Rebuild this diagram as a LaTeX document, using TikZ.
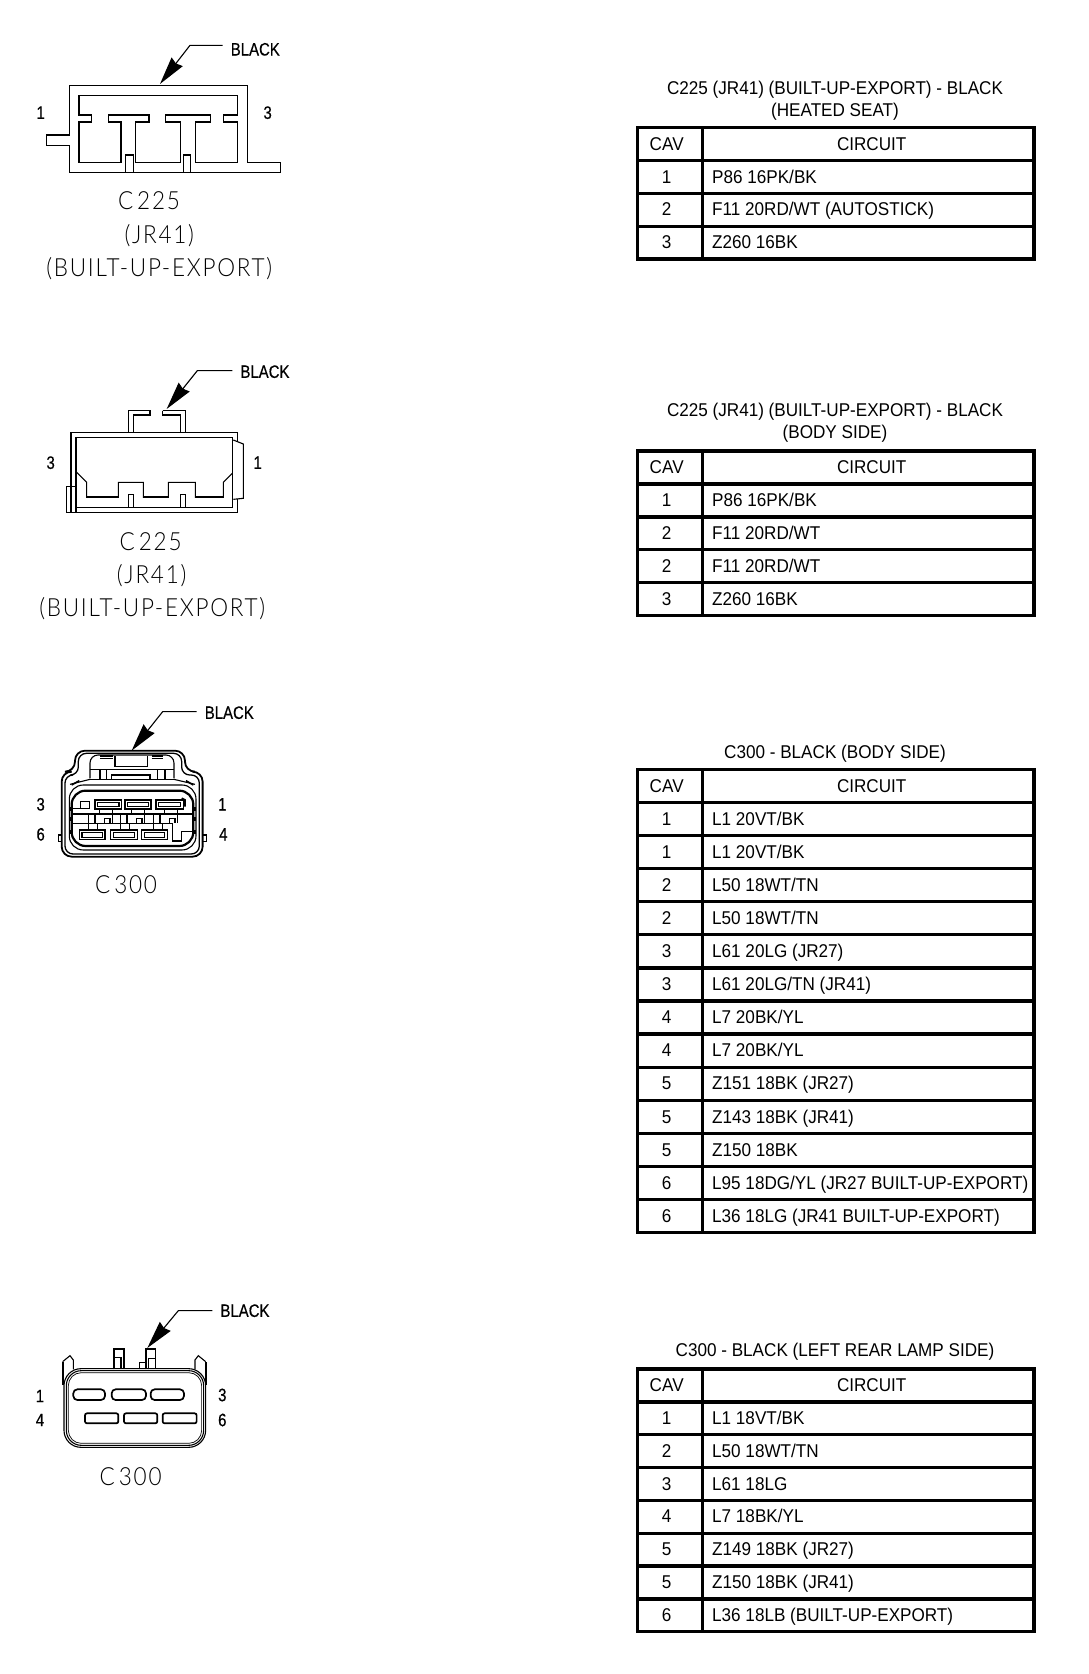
\documentclass[tikz,border=0pt]{standalone}
\usepackage{fontspec}
\setmainfont{Liberation Sans}[FakeStretch=0.925]
\newfontfamily\blackfont{Liberation Sans}[FakeStretch=0.83,FakeBold=0.4]
\newfontfamily\capfont{Lato}[UprightFont=* Light,LetterSpace=7,FakeStretch=0.9]
\usetikzlibrary{arrows.meta}

\tikzset{
  zoomed/.style 2 args={shift={(#1,#2)},x=0.3333pt,y=-0.3333pt},
  thin line/.style={line width=1.1pt,line join=miter},
  grid line/.style={line width=3.3pt,line cap=rect},
  leader/.style={line width=1.1pt,-{Stealth[length=28pt,width=14pt,inset=2pt]}},
  cellfont/.style={inner sep=0pt,anchor=base,font=\fontsize{18.5}{18.5}\selectfont},
  colorlabel/.style={inner sep=0pt,font=\blackfont\fontsize{18}{18}\selectfont},
  pinlabel/.style={inner sep=0pt,font=\blackfont\fontsize{18}{18}\selectfont},
  caplabel/.style={inner sep=0pt,font=\capfont\fontsize{25}{25}\selectfont},
}

% #1 name, #2 y of top line, #3 y of bottom line, #4 number of lines below the top, #5 rows
\newcommand{\wiretable}[5]{
  \pgfmathsetmacro{\rowh}{(#3-#2)/#4}
  \draw[grid line] (637.3,#2) rectangle (1034,#3);
  \draw[grid line] (702.7,#2) -- (702.7,#3);
  \foreach \r in {1,...,#4} {
    \draw[grid line] (637.3,#2+\r*\rowh) -- (1034,#2+\r*\rowh);
  }
  \node[cellfont] (#1cav) at (666.7,#2+0.5*\rowh+6.2) {CAV};
  \node[cellfont] (#1cir) at (871.7,#2+0.5*\rowh+6.2) {CIRCUIT};
  \foreach \c/\w [count=\r] in {#5} {
    \node[cellfont] (#1c\r) at (666.7,#2+\r*\rowh+0.5*\rowh+6.2) {\c};
    \node[cellfont,anchor=base west] (#1w\r) at (712,#2+\r*\rowh+0.5*\rowh+6.2) {\w};
  }
}

\begin{document}
\begin{tikzpicture}[x=1pt,y=-1pt]
\useasboundingbox (0,0) rectangle (1088,1674);
\fill[white] (0,0) rectangle (1088,1674);

% first connector
\begin{scope}[zoomed={0}{20}]
\node[colorlabel] (blk1) at (766,88) {BLACK};
\node[pinlabel] (p1a) at (122,278) {1};
\node[pinlabel] (p1b) at (803,278) {3};
\node[caplabel] (cap1a) at (447,543) {C\kern4pt225};
\node[caplabel] (cap1b) at (478,647) {(JR41)};
\node[caplabel] (cap1c) at (478,745) {(BUILT-UP-EXPORT)};
\coordinate (bend1) at (570,76);
\coordinate (tip1) at (480,192);
\draw[thin line] (140,345) -- (208,345) -- (208,197) -- (742,197) -- (742,428) -- (841,428) -- (841,457) -- (208,457) -- (208,376) -- (140,376) -- cycle;
\draw[thin line] (237,226) -- (712,226) -- (712,285) -- (670,285) -- (670,306) -- (712,306) -- (712,428) -- (586,428) -- (586,306) -- (632,306) -- (632,285) -- (497,285) -- (497,306) -- (541,306) -- (541,428) -- (407,428) -- (407,306) -- (447,306) -- (447,285) -- (326,285) -- (326,306) -- (363,306) -- (363,428) -- (237,428) -- (237,306) -- (275,306) -- (275,285) -- (237,285) -- cycle;
\draw[thin line] (377,457) -- (377,405) -- (400,405) -- (400,457);
\draw[thin line] (551,457) -- (551,405) -- (571,405) -- (571,457);
\draw[leader] ([xshift=-8pt]blk1.west |- bend1) -- (bend1) -- (tip1);
\end{scope}

% second connector
\begin{scope}[zoomed={0}{350}]
\node[colorlabel] (blk2) at (795,65) {BLACK};
\node[pinlabel] (p2a) at (152,338) {3};
\node[pinlabel] (p2b) at (773,338) {1};
\node[caplabel] (cap2a) at (452,575) {C\kern4pt225};
\node[caplabel] (cap2b) at (455,678) {(JR41)};
\node[caplabel] (cap2c) at (457,775) {(BUILT-UP-EXPORT)};
\coordinate (bend2) at (592,62);
\coordinate (tip2) at (500,177);
\draw[thin line] (213,487) -- (213,247) -- (712,247) -- (712,275);
\draw[thin line] (712,448) -- (712,487) -- (228,487);
\draw[thin line] (200,410) rectangle (228,487);
\draw[thin line] (228,487) -- (228,262) -- (697,262) -- (697,472) -- (228,472);
\draw[thin line] (700,270) -- (730,282) -- (730,445) -- (700,448);
\draw[thin line] (228,365) -- (260,397) -- (260,442) -- (355,442) -- (355,397) -- (430,397) -- (430,442) -- (505,442) -- (505,397) -- (586,397) -- (586,442) -- (670,442) -- (670,397) -- (697,370);
\draw[line width=2pt] (260,442) -- (355,442) (430,442) -- (505,442) (586,442) -- (670,442);
\draw[thin line] (386,472) -- (386,433) -- (400,433) -- (400,472);
\draw[thin line] (541,472) -- (541,433) -- (556,433) -- (556,472);
\draw[thin line] (386,247) -- (386,182) -- (450,182) -- (450,195) -- (400,195) -- (400,247);
\draw[thin line] (488,182) -- (556,182) -- (556,247) (488,182) -- (488,195) -- (542,195) -- (542,247);
\draw[leader] ([xshift=-8pt]blk2.west |- bend2) -- (bend2) -- (tip2);
\end{scope}

% third connector
\begin{scope}[zoomed={20}{690}]
\node[colorlabel] (blk3) at (628,68) {BLACK};
\node[pinlabel] (p3a) at (62,343) {3};
\node[pinlabel] (p3b) at (607,343) {1};
\node[pinlabel] (p3c) at (62,433) {6};
\node[pinlabel] (p3d) at (610,433) {4};
\node[caplabel] (cap3) at (318,583) {C\kern4pt300};
\coordinate (bend3) at (428,65);
\coordinate (tip3) at (335,182);
% shell
\draw[line width=1.8pt,rounded corners=10pt] (125,500) -- (125,245) -- (165,245) -- (165,182) -- (495,182) -- (495,245) -- (548,245) -- (548,500) -- cycle;
\draw[line width=1.3pt,rounded corners=8pt] (135,492) -- (135,255) -- (175,255) -- (175,190) -- (485,190) -- (485,255) -- (538,255) -- (538,492) -- cycle;
\draw[thin line,rounded corners=8pt] (210,265) -- (210,195) -- (462,195) -- (462,265);
\draw[thin line] (285,198) -- (285,230) -- (382,230) -- (382,198);
\draw[thin line] (240,198) -- (280,198) (395,198) -- (430,198) (240,206) -- (280,206) (395,206) -- (430,206);
\draw[thin line] (210,238) -- (462,238);
\foreach \x in {240,260,412,435} {
  \draw[thin line] (\x,238) -- (\x,268);
}
\draw[thin line] (275,268) -- (275,255) -- (390,255) -- (390,268) (210,268) -- (462,268);
\draw[thin line] (150,283) -- (210,268) (462,268) -- (525,283);
\draw[line width=1.6pt] (155,285) -- (178,272) (498,272) -- (520,285);
% face
\draw[thin line,rounded corners=14pt] (148,285) rectangle (528,480);
\draw[line width=2.2pt,rounded corners=14pt] (155,302) -- (520,302) -- (520,468) -- (155,468) -- cycle;
\foreach \y in {350,380,420} {
  \fill (146,\y) rectangle (156,\y+12);
  \fill (518,\y) rectangle (528,\y+12);
}
\draw[thin line] (115,435) rectangle (125,455) (548,435) rectangle (560,455);
% cavities
\foreach \x/\w in {225/80,315/78,408/82} {
  \draw[thin line] (\x,330) rectangle ++(\w,27);
  \draw[thin line] (\x+8,337) rectangle ++(\w-16,13);
}
\foreach \x/\w in {178/77,272/80,365/77} {
  \draw[thin line] (\x,420) rectangle ++(\w,29);
  \draw[thin line] (\x+8,427) rectangle ++(\w-16,15);
}
\draw[thin line] (158,355) -- (208,355) -- (208,335) -- (182,335) -- (182,355);
\draw[thin line] (155,372) -- (520,372) (155,400) -- (458,400);
\foreach \dx in {0,96,195} {
  \draw[thin line] (205+\dx,372) -- (205+\dx,400) -- (225+\dx,400) -- (225+\dx,372);
  \draw[thin line] (253+\dx,400) -- (253+\dx,385) -- (270+\dx,385) -- (270+\dx,400);
  \draw[thin line] (238+\dx,357) -- (238+\dx,372) (278+\dx,357) -- (278+\dx,400);
  \draw[thin line] (205+\dx,400) -- (205+\dx,420) (232+\dx,400) -- (232+\dx,420);
}
\draw[thin line] (458,400) -- (458,453) -- (485,453) -- (485,425) -- (515,425);
\draw[line width=2pt] (485,325) -- (495,330) -- (495,350);
\draw[leader] ([xshift=-8pt]blk3.west |- bend3) -- (bend3) -- (tip3);
\end{scope}

% fourth connector
\begin{scope}[zoomed={20}{1290}]
\node[colorlabel] (blk4) at (675,62) {BLACK};
\node[pinlabel] (p4a) at (60,318) {1};
\node[pinlabel] (p4b) at (607,315) {3};
\node[pinlabel] (p4c) at (60,390) {4};
\node[pinlabel] (p4d) at (607,390) {6};
\node[caplabel] (cap4) at (332,560) {C\kern4pt300};
\coordinate (bend4) at (475,62);
\coordinate (tip4) at (382,174);
\draw[thin line,rounded corners=17pt] (132,236) rectangle (557,472);
\draw[thin line,rounded corners=15pt] (139,242) rectangle (551,466);
\draw[line width=.7pt,rounded corners=13pt] (145,248) rectangle (545,460);
\foreach \x/\w in {160/95,275/103,392/100} {
  \draw[line width=1.7pt,rounded corners=4pt] (\x,298) rectangle ++(\w,32);
}
\foreach \x/\w in {195/100,312/100,428/102} {
  \draw[line width=1.7pt,rounded corners=2pt] (\x,370) rectangle ++(\w,30);
}
\draw[line width=2pt] (128,285) -- (128,215);
\draw[thin line] (128,215) -- (150,197) -- (160,210) -- (160,238);
\draw[line width=2pt] (557,285) -- (557,215);
\draw[thin line] (525,238) -- (525,210) -- (535,197) -- (557,215);
\draw[thin line] (282,238) -- (282,177) -- (312,177) -- (312,238) (282,203) -- (303,203) -- (303,238);
\draw[thin line] (378,238) -- (378,177) -- (407,177) -- (407,238) (385,238) -- (385,205) -- (407,205);
\draw[thin line] (358,238) -- (358,217) -- (378,217);
\draw[leader] ([xshift=-8pt]blk4.west |- bend4) -- (bend4) -- (tip4);
\end{scope}

% tables
\node[cellfont] (title1a) at (835,94.5) {C225 (JR41) (BUILT-UP-EXPORT) - BLACK};
\node[cellfont] (title1b) at (835,116.2) {(HEATED SEAT)};
\wiretable{ta}{127.7}{259}{4}{1/{P86 16PK/BK},2/{F11 20RD/WT (AUTOSTICK)},3/{Z260 16BK}}

\node[cellfont] (title2a) at (835,416.9) {C225 (JR41) (BUILT-UP-EXPORT) - BLACK};
\node[cellfont] (title2b) at (835,438.9) {(BODY SIDE)};
\wiretable{tb}{451}{615.7}{5}{1/{P86 16PK/BK},2/{F11 20RD/WT},2/{F11 20RD/WT},3/{Z260 16BK}}

\node[cellfont] (title3) at (835,758.5) {C300 - BLACK (BODY SIDE)};
\wiretable{tc}{769.3}{1232.7}{14}{1/{L1 20VT/BK},1/{L1 20VT/BK},2/{L50 18WT/TN},2/{L50 18WT/TN},3/{L61 20LG (JR27)},3/{L61 20LG/TN (JR41)},4/{L7 20BK/YL},4/{L7 20BK/YL},5/{Z151 18BK (JR27)},5/{Z143 18BK (JR41)},5/{Z150 18BK},6/{L95 18DG/YL (JR27 BUILT-UP-EXPORT)},6/{L36 18LG (JR41 BUILT-UP-EXPORT)}}

\node[cellfont] (title4) at (835,1356.2) {C300 - BLACK (LEFT REAR LAMP SIDE)};
\wiretable{td}{1369}{1631.7}{8}{1/{L1 18VT/BK},2/{L50 18WT/TN},3/{L61 18LG},4/{L7 18BK/YL},5/{Z149 18BK (JR27)},5/{Z150 18BK (JR41)},6/{L36 18LB (BUILT-UP-EXPORT)}}
\end{tikzpicture}
\end{document}
